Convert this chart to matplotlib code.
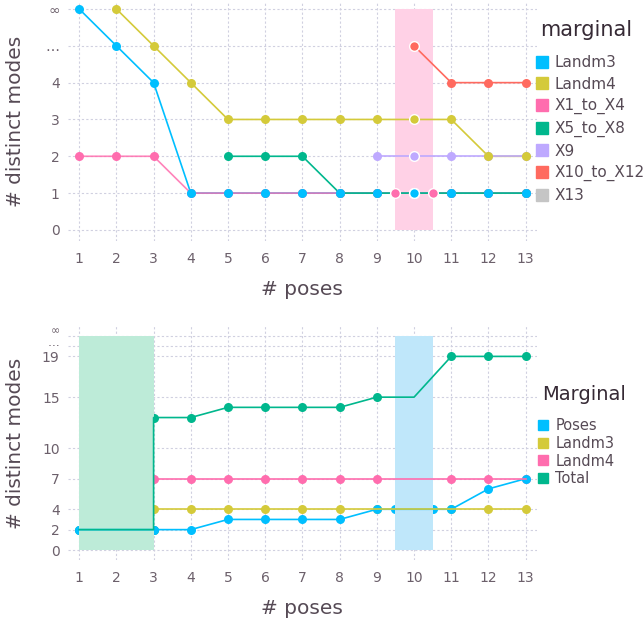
# Mode counts per pose, two panels in the style of the Gadfly originals.
import numpy as np
from matplotlib import pyplot as plt
from matplotlib.lines import Line2D

plt.rcParams['font.family'] = ['DejaVu Sans']

poses = list(range(1, 14))

# top panel, y: 0..4, 5 = "...", 6 = infinity
top_names = ['Landm3', 'Landm4', 'X1_to_X4', 'X5_to_X8', 'X9', 'X10_to_X12', 'X13']
top_x = {
    'Landm3': [1, 2, 3, 4, 5, 6, 7, 8, 9, 10, 11, 12, 13],
    'Landm4': [2, 3, 4, 5, 6, 7, 8, 9, 10, 11, 12, 13],
    'X1_to_X4': [1, 2, 3, 4, 5, 6, 7, 8, 9, 9.5, 10, 10.5, 11, 12, 13],
    'X5_to_X8': [5, 6, 7, 8, 9, 10, 11, 12, 13],
    'X9': [9, 10, 11, 12, 13],
    'X10_to_X12': [10, 11, 12, 13],
    'X13': [13],
}
top_y = {
    'Landm3': [6, 5, 4, 1, 1, 1, 1, 1, 1, 1, 1, 1, 1],
    'Landm4': [6, 5, 4, 3, 3, 3, 3, 3, 3, 3, 2, 2],
    'X1_to_X4': [2, 2, 2, 1, 1, 1, 1, 1, 1, 1, 1, 1, 1, 1, 1],
    'X5_to_X8': [2, 2, 2, 1, 1, 1, 1, 1, 1],
    'X9': [2, 2, 2, 2, 2],
    'X10_to_X12': [5, 4, 4, 4],
    'X13': [1],
}
top_ticks = [0, 1, 2, 3, 4, 5, 6]
top_ticklabels = ['0', '1', '2', '3', '4', '…', '∞']

# bottom panel, y: 20 = "...", 21 = infinity
bot_names = ['Poses', 'Landm3', 'Landm4', 'Total']
bot_x = {
    'Poses': [1, 2, 3, 4, 5, 6, 7, 8, 9, 9.5, 10.5, 11, 12, 13],
    'Landm3': [3, 4, 5, 6, 7, 8, 9, 10, 11, 12, 13],
    'Landm4': [3, 4, 5, 6, 7, 8, 9, 10, 11, 12, 13],
    'Total': [1, 2, 3, 3, 4, 5, 6, 7, 8, 9, 10, 11, 12, 13],
}
bot_y = {
    'Poses': [2, 2, 2, 2, 3, 3, 3, 3, 4, 4, 4, 4, 6, 7],
    'Landm3': [4, 4, 4, 4, 4, 4, 4, 4, 4, 4, 4],
    'Landm4': [7, 7, 7, 7, 7, 7, 7, 7, 7, 7, 7],
    'Total': [2, 2, 2, 13, 13, 14, 14, 14, 14, 15, 15, 19, 19, 19],
}
bot_ticks = [0, 2, 4, 7, 10, 15, 19, 20, 21]
bot_ticklabels = ['0', '2', '4', '7', '10', '15', '19', '…', '∞']

colors = {
    'Landm3': '#00BFFF', 'Landm4': '#D4CA3A', 'X1_to_X4': '#FF6DAE',
    'X5_to_X8': '#00B78D', 'X9': '#BEA9FF', 'X10_to_X12': '#FF6A5F',
    'X13': '#C5C5C5',
}
bot_colors = {'Poses': '#00BFFF', 'Landm3': '#D4CA3A', 'Landm4': '#FF6DAE', 'Total': '#00B78D'}

tick_col = '#6c606b'
lab_col = '#564a55'

fig = plt.figure(figsize=(6.44, 6.23), dpi=100)
ax1 = fig.add_axes([0.1056, 0.6132, 0.728, 0.3842])
ax2 = fig.add_axes([0.1056, 0.1008, 0.728, 0.3762])


def style(ax, ticks, labels, ylim):
    ax.set_xlim(0.7, 13.3)
    ax.set_ylim(*ylim)
    ax.set_xticks(poses)
    ax.set_yticks(ticks)
    ax.set_yticklabels(labels)
    for s in ax.spines.values():
        s.set_visible(False)
    ax.tick_params(length=0, labelsize=10, colors=tick_col, pad=6)
    ax.tick_params(axis='x', pad=8)
    ax.grid(True, color='#D0D0E0', linestyle=(0, (2, 2)), linewidth=0.8)
    ax.set_axisbelow(True)
    ax.set_xlabel('# poses', fontsize=14.5, color=lab_col, labelpad=10)
    ax.set_ylabel('# distinct modes', fontsize=14.5, color=lab_col)
    ax.yaxis.set_label_coords(-0.092, 0.5)


# top
style(ax1, top_ticks, top_ticklabels, (-0.3, 6.2))
ax1.axvspan(9.5, 10.5, ymin=0.3 / 6.5, ymax=6.3 / 6.5, color='#FFD1E6', lw=0, zorder=1)
for name in top_names:
    x = np.array(top_x[name], dtype=float)
    y = np.array(top_y[name], dtype=float)
    c = colors[name]
    ax1.plot(x, y, color=c, lw=1.2, zorder=3, alpha=0.85 if name == 'X1_to_X4' else 1)
for name in reversed(top_names):
    x = np.array(top_x[name], dtype=float)
    y = np.array(top_y[name], dtype=float)
    c = colors[name]
    out = (x < 9.5) | (x > 10.5)
    ax1.plot(x[out], y[out], 'o', color=c, ms=6.5, mew=0, zorder=4)
    ax1.plot(x[~out], y[~out], 'o', color=c, ms=7, mec='white', mew=1, zorder=5)

h1 = [Line2D([], [], marker='s', ls='', color=colors[n], ms=8) for n in top_names]
leg1 = ax1.legend(h1, top_names, loc='upper left', bbox_to_anchor=(0.832, 1 - 55 / 623),
                  bbox_transform=fig.transFigure, frameon=False, fontsize=11,
                  handlelength=0.8, handletextpad=0.45, labelspacing=0.43,
                  borderaxespad=0, borderpad=0)
for t in leg1.get_texts():
    t.set_color(lab_col)
fig.text(0.838, 1 - 30 / 623, 'marginal', fontsize=15, color='#362a35', va='center')

# bottom
style(ax2, bot_ticks, bot_ticklabels, (-1, 22))
ylabs = ax2.get_yticklabels()
ylabs[-1].set_fontsize(8)
ylabs[-1].set_va('bottom')
ylabs[-2].set_fontsize(8.5)
ylabs[-2].set_va('baseline')
ax2.axvspan(1, 3, ymin=1 / 23, ymax=22 / 23, color='#BDEBD8', lw=0, zorder=3)
ax2.axvspan(9.5, 10.5, ymin=1 / 23, ymax=22 / 23, color='#BFE7FA', lw=0, zorder=3)
for name in bot_names:
    c = bot_colors[name]
    ax2.plot(bot_x[name], bot_y[name], color=c, lw=1.2, zorder=4)
for name in reversed(bot_names):
    c = bot_colors[name]
    ax2.plot(bot_x[name], bot_y[name], 'o', color=c, ms=6.5, mew=0, zorder=2)

h2 = [Line2D([], [], marker='s', ls='', color=bot_colors[n], ms=7) for n in bot_names]
leg2 = ax2.legend(h2, bot_names, loc='upper left', bbox_to_anchor=(0.836, 1 - 418 / 623),
                  bbox_transform=fig.transFigure, frameon=False, fontsize=10.5,
                  handlelength=0.7, handletextpad=0.45, labelspacing=0.19,
                  borderaxespad=0, borderpad=0)
for t in leg2.get_texts():
    t.set_color(lab_col)
fig.text(0.842, 1 - 395 / 623, 'Marginal', fontsize=14, color='#362a35', va='center')

fig.savefig('out.png', dpi=100)
